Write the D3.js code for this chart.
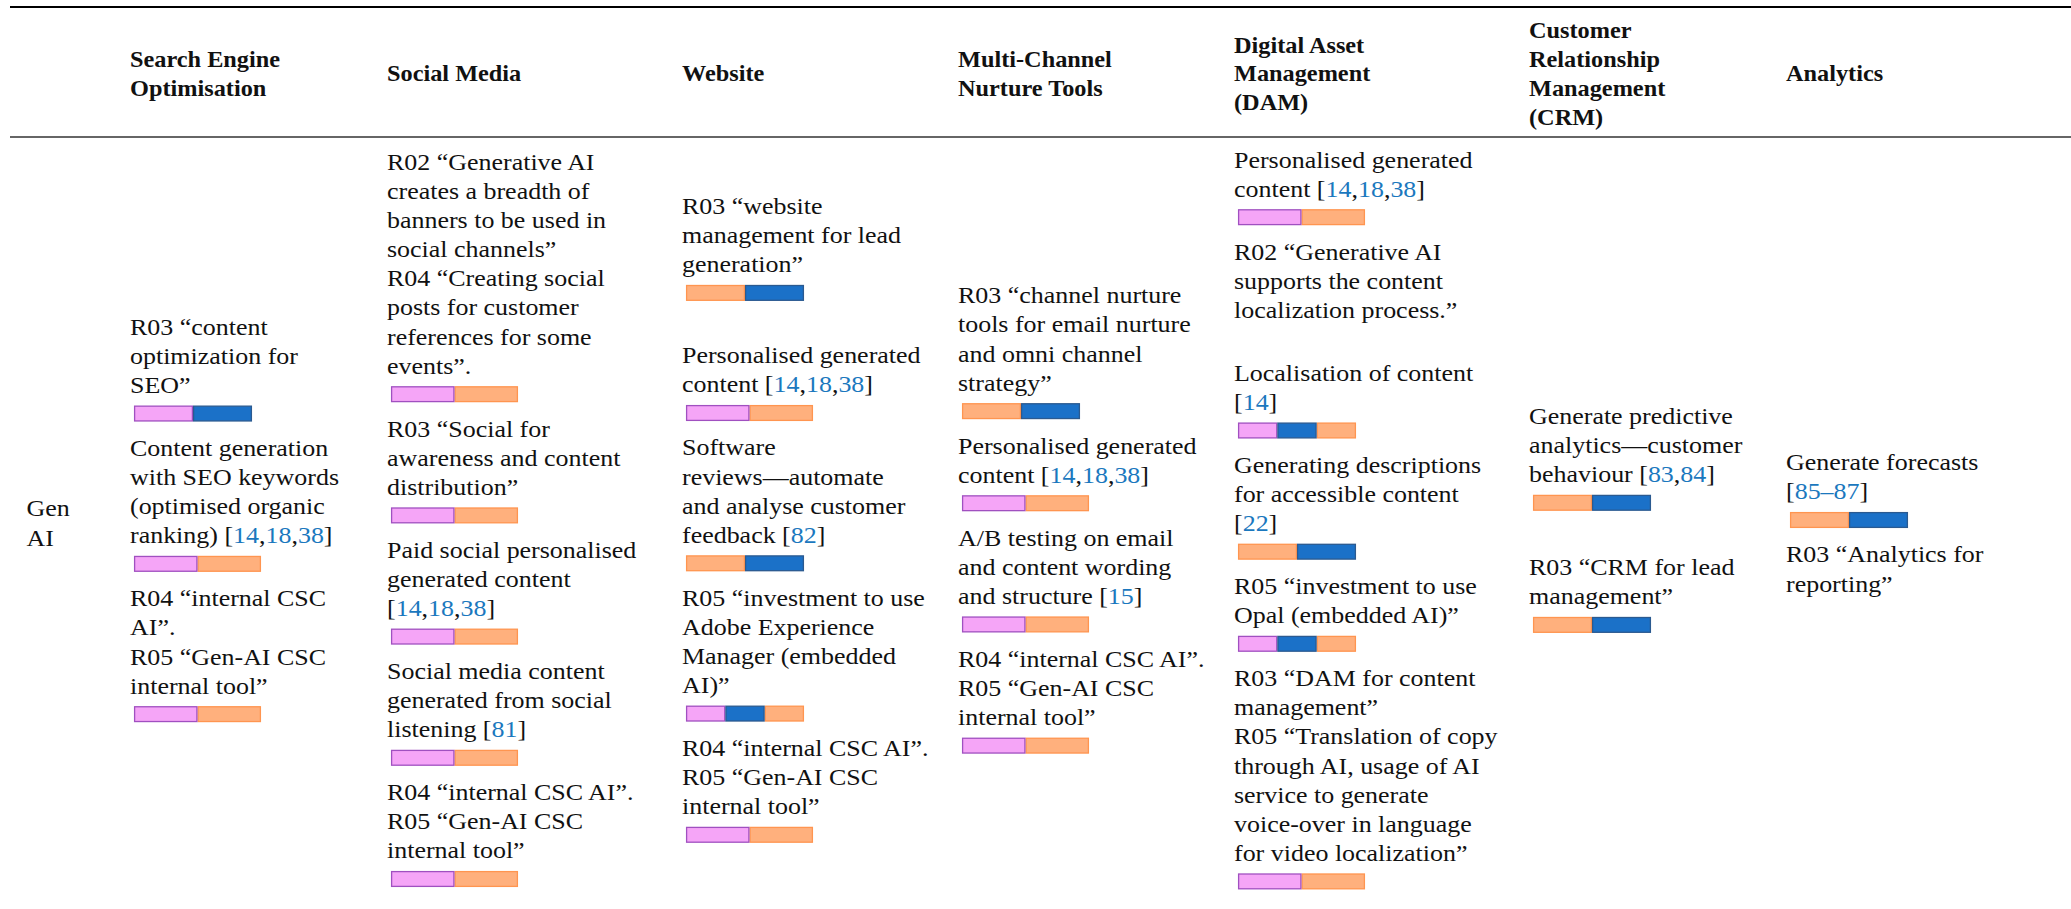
<!DOCTYPE html>
<html><head><meta charset="utf-8">
<script src="https://cdn.jsdelivr.net/npm/d3@7"></script>
<style>
html,body{margin:0;padding:0;background:#fff;}
svg{display:block;}
</style></head><body>
<svg id="chart" width="2071" height="909"></svg>
<script>
// ---------- DATA ----------
const headerLines = [
  ["Search Engine","Optimisation"],
  ["Social Media"],
  ["Website"],
  ["Multi-Channel","Nurture Tools"],
  ["Digital Asset","Management","(DAM)"],
  ["Customer","Relationship","Management","(CRM)"],
  ["Analytics"]
];
const rowLabel = ["Gen","AI"];

const seoCells = [
  {lines:["R03 “content","optimization for","SEO”"], bar:["pink","blue"]},
  {lines:["Content generation","with SEO keywords","(optimised organic","ranking) [{14},{18},{38}]"], bar:["pink","orange"]},
  {lines:["R04 “internal CSC","AI”.","R05 “Gen-AI CSC","internal tool”"], bar:["pink","orange"]}
];
const socialCells = [
  {lines:["R02 “Generative AI","creates a breadth of","banners to be used in","social channels”","R04 “Creating social","posts for customer","references for some","events”."], bar:["pink","orange"]},
  {lines:["R03 “Social for","awareness and content","distribution”"], bar:["pink","orange"]},
  {lines:["Paid social personalised","generated content","[{14},{18},{38}]"], bar:["pink","orange"]},
  {lines:["Social media content","generated from social","listening [{81}]"], bar:["pink","orange"]},
  {lines:["R04 “internal CSC AI”.","R05 “Gen-AI CSC","internal tool”"], bar:["pink","orange"]}
];
const websiteCells = [
  {lines:["R03 “website","management for lead","generation”"], bar:["orange","blue"]},
  {lines:["Personalised generated","content [{14},{18},{38}]"], bar:["pink","orange"]},
  {lines:["Software","reviews—automate","and analyse customer","feedback [{82}]"], bar:["orange","blue"]},
  {lines:["R05 “investment to use","Adobe Experience","Manager (embedded","AI)”"], bar:["pink","blue","orange"]},
  {lines:["R04 “internal CSC AI”.","R05 “Gen-AI CSC","internal tool”"], bar:["pink","orange"]}
];
const nurtureCells = [
  {lines:["R03 “channel nurture","tools for email nurture","and omni channel","strategy”"], bar:["orange","blue"]},
  {lines:["Personalised generated","content [{14},{18},{38}]"], bar:["pink","orange"]},
  {lines:["A/B testing on email","and content wording","and structure [{15}]"], bar:["pink","orange"]},
  {lines:["R04 “internal CSC AI”.","R05 “Gen-AI CSC","internal tool”"], bar:["pink","orange"]}
];
const damCells = [
  {lines:["Personalised generated","content [{14},{18},{38}]"], bar:["pink","orange"]},
  {lines:["R02 “Generative AI","supports the content","localization process.”"], bar:[]},
  {lines:["Localisation of content","[{14}]"], bar:["pink","blue","orange"]},
  {lines:["Generating descriptions","for accessible content","[{22}]"], bar:["orange","blue"]},
  {lines:["R05 “investment to use","Opal (embedded AI)”"], bar:["pink","blue","orange"]},
  {lines:["R03 “DAM for content","management”","R05 “Translation of copy","through AI, usage of AI","service to generate","voice-over in language","for video localization”"], bar:["pink","orange"]}
];
const crmCells = [
  {lines:["Generate predictive","analytics—customer","behaviour [{83},{84}]"], bar:["orange","blue"]},
  {lines:["R03 “CRM for lead","management”"], bar:["orange","blue"]}
];
const analyticsCells = [
  {lines:["Generate forecasts","[{85–87}]"], bar:["orange","blue"]},
  {lines:["R03 “Analytics for","reporting”"], bar:[]}
];
const columnCells = [seoCells, socialCells, websiteCells, nurtureCells, damCells, crmCells, analyticsCells];

// ---------- LAYOUT / STYLE ----------
const W = 2071, H = 909;
const colX = [130, 387, 682, 958, 1234, 1529, 1786];
const gapAfter = {2:[28], 5:[30]};
const colNudge = [0,0,0,0,0,0,5];
const LINE = 29.1, BAR_OFF = 12.5, BAR_H = 16, BAR_GAP = 34.5, CAP = 15, ROW_CENTER = 521;
const segFill = {pink:"#F5A5F7", orange:"#FFB07D", blue:"#1B71C8"};
const segStroke = {pink:"#A050C0", orange:"#FF9550", blue:"#2B5A90"};
const segZ = {orange:0, pink:1, blue:2};
const linkColor = "#1B78BE";

// pick an installed serif font
function hasFont(name){
  const c = document.createElement("canvas").getContext("2d");
  const s = "abcdefghijklmnopqrstuvwxyz WMQ 0123456789";
  return ["monospace","sans-serif"].some(fb=>{
    c.font = `40px ${fb}`; const a = c.measureText(s).width;
    c.font = `40px "${name}", ${fb}`; const b = c.measureText(s).width;
    return Math.abs(a-b) > 0.5;
  });
}
const serifCandidates = [["Liberation Serif",0.662],["Tinos",0.662],["Times New Roman",0.662],["Noto Serif",0.714],["DejaVu Serif",0.729]];
let FAMILY = "serif", capRatio = 0.662;
for (const [n,cr] of serifCandidates){ if (hasFont(n)){ FAMILY = `"${n}"`; capRatio = cr; break; } }
const FONT = 15.2 / capRatio;
const HFONT = 15.6 / capRatio;

const svg = d3.select("#chart").attr("viewBox",[0,0,W,H]);
svg.append("rect").attr("width",W).attr("height",H).attr("fill","#fff");

// horizontal stretch so text widths match reference
const probe = svg.append("text").attr("font-family",FAMILY).attr("font-size",FONT).text("banners to be used in");
const SX = 219 / probe.node().getComputedTextLength();
probe.remove();
const probeH = svg.append("text").attr("font-family",FAMILY).attr("font-size",HFONT).attr("font-weight","bold").text("Search Engine");
const SXH = 150 / probeH.node().getComputedTextLength();
probeH.remove();

const xCol = d3.scaleOrdinal().domain(d3.range(headerLines.length)).range(colX);

// rules
svg.append("line").attr("x1",10).attr("x2",W).attr("y1",7).attr("y2",7)
  .attr("stroke","#000").attr("stroke-width",2.2);
svg.append("line").attr("x1",10).attr("x2",W).attr("y1",137).attr("y2",137)
  .attr("stroke","#333").attr("stroke-width",1.3);

function addText(g, str, y, size, weight){
  const t = g.append("text").attr("x",0).attr("y",y)
    .attr("font-family",FAMILY).attr("font-size",size)
    .attr("font-weight",weight||"normal").attr("fill","#111");
  str.split(/(\{[^}]*\})/).filter(s=>s.length).forEach(s=>{
    if (s[0]==="{") t.append("tspan").attr("fill",linkColor).text(s.slice(1,-1));
    else t.append("tspan").text(s);
  });
}

// headers
headerLines.forEach((lines,ci)=>{
  const g = svg.append("g").attr("transform",`translate(${xCol(ci)},0) scale(${SXH},1)`);
  const n = lines.length;
  lines.forEach((l,i)=> addText(g, l, 81.5 + (i-(n-1)/2)*28.7, HFONT, "bold"));
});

// row label
const rl = svg.append("g").attr("transform",`translate(26.5,0) scale(${SX},1)`);
rowLabel.forEach((l,i)=> addText(rl, l, ROW_CENTER + 10 + (i-0.5)*LINE, FONT));

// cells
columnCells.forEach((items,ci)=>{
  let y = 0, bottom = 0;
  const placed = [];
  items.forEach((it,k)=>{
    const isLast = k===items.length-1;
    const lines = it.lines.map((t,j)=>({t, y:y+j*LINE}));
    const lastBL = y + (it.lines.length-1)*LINE;
    let bar = null;
    if (it.bar.length || !isLast){
      const top = lastBL + BAR_OFF;
      if (it.bar.length) bar = {top, segs:it.bar};
      bottom = top + BAR_H;
      y = bottom + BAR_GAP + ((gapAfter[ci]||[])[k]||0);
    } else bottom = lastBL + 5;
    placed.push({lines, bar});
  });
  const shift = ROW_CENTER - (bottom - CAP)/2 + colNudge[ci];
  const x0 = xCol(ci);
  const gt = svg.append("g").attr("transform",`translate(${x0},${shift}) scale(${SX},1)`);
  const gb = svg.append("g").attr("transform",`translate(0,${shift})`);
  placed.forEach(p=>{
    p.lines.forEach(l=> addText(gt, l.t, l.y, FONT));
    if (p.bar){
      const segs = p.bar.segs;
      const isPO = segs.length===2 && segs.includes("pink") && segs.includes("orange");
      const bw = isPO ? 127 : 118;
      const xb = d3.scaleBand().domain(d3.range(segs.length)).range([x0+4, x0+4+bw]);
      const data = segs.map((s,i)=>({s,i})).sort((a,b)=>segZ[a.s]-segZ[b.s]);
      gb.selectAll(null).data(data).join("rect")
        .attr("x",d=>xb(d.i)+0.6).attr("y",p.bar.top+0.6)
        .attr("width",xb.bandwidth()-1.2).attr("height",BAR_H-1.2)
        .attr("fill",d=>segFill[d.s]).attr("stroke",d=>segStroke[d.s]).attr("stroke-width",1.3);
    }
  });
});
</script>
</body></html>
